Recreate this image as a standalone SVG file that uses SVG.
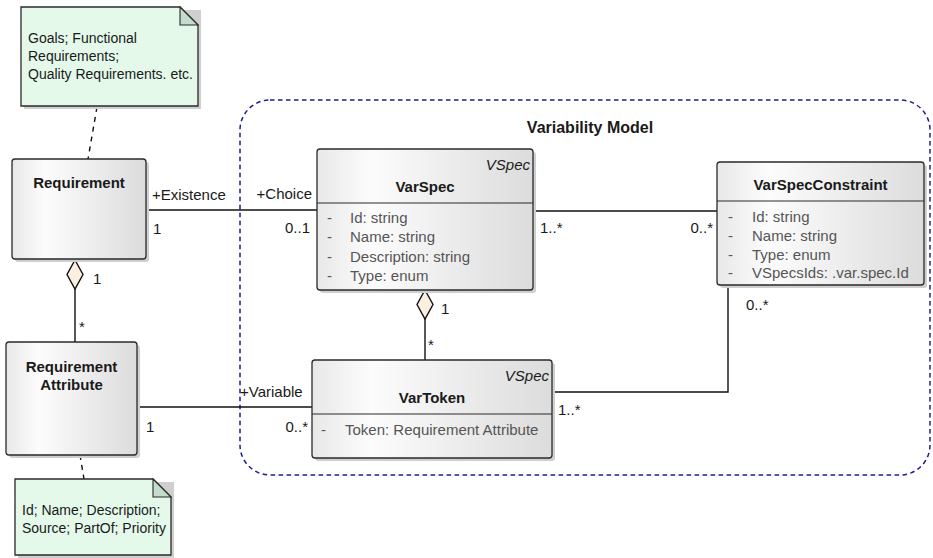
<svg xmlns="http://www.w3.org/2000/svg" width="933" height="558" viewBox="0 0 933 558">
<defs>
<linearGradient id="cls" x1="0" y1="0" x2="1" y2="0">
<stop offset="0" stop-color="#e8e8e8"/>
<stop offset="0.25" stop-color="#fcfcfc"/>
<stop offset="1" stop-color="#dcdcdc"/>
</linearGradient>
<style>
text{font-family:"Liberation Sans",Arial,sans-serif;font-size:15px;fill:#1a1a1a}
.t{font-weight:bold;text-anchor:middle}
.st{font-style:italic;text-anchor:end}
.a{fill:#555}
.n{font-size:14px}
.r{text-anchor:end}
.box{fill:url(#cls);stroke:#2a2a2a;stroke-width:1.3}
.sh{fill:#cfcfcf}
.div{stroke:#2a2a2a;stroke-width:1.2}
.note{fill:#e4f9ea;stroke:#2a2a2a;stroke-width:1.3}
.fold{fill:#c3dccb;stroke:#2a2a2a;stroke-width:1.1}
.ln{fill:none;stroke:#111;stroke-width:1.4}
.dl{fill:none;stroke:#111;stroke-width:1.4;stroke-dasharray:5 5}
.dia{fill:#fbefdf;stroke:#111;stroke-width:1.4}
.pkg{fill:none;stroke:#1c1c9c;stroke-width:1.5;stroke-dasharray:4.5 3.5}
</style>
</defs>
<rect width="933" height="558" fill="#fff"/>

<g id="package">
<path class="pkg" d="M270,100 H900 A30,30 0 0 1 930,130 V445 A30,30 0 0 1 900,475 H270 A30,30 0 0 1 240,445 V130 A30,30 0 0 1 270,100 Z"/>
<text x="590" y="133" class="t" style="font-size:16px">Variability Model</text>
</g>

<g id="connectors">
<line class="ln" x1="146" y1="210" x2="317" y2="210"/>
<line class="ln" x1="75" y1="289" x2="75" y2="342"/>
<polygon class="dia" points="75,260 83,274.5 75,289 67,274.5"/>
<line class="ln" x1="137" y1="407" x2="312" y2="407"/>
<line class="ln" x1="533" y1="211" x2="717" y2="211"/>
<line class="ln" x1="425" y1="319" x2="425" y2="360"/>
<polygon class="dia" points="425,290 433,304.5 425,319 417,304.5"/>
<polyline class="ln" points="728,285 728,392 552,392"/>
<line class="dl" x1="97" y1="107" x2="88" y2="159"/>
<line class="dl" x1="80" y1="455" x2="84" y2="479"/>
<text x="152" y="200">+Existence</text>
<text x="153" y="234">1</text>
<text x="312" y="199" class="r">+Choice</text>
<text x="310" y="233" class="r">0..1</text>
<text x="93" y="284">1</text>
<text x="79" y="332">*</text>
<text x="146" y="432">1</text>
<text x="240" y="397">+Variable</text>
<text x="308" y="432" class="r">0..*</text>
<text x="540" y="233">1..*</text>
<text x="713" y="233" class="r">0..*</text>
<text x="441" y="314">1</text>
<text x="428" y="350">*</text>
<text x="746" y="310">0..*</text>
<text x="558" y="415">1..*</text>
</g>

<g id="note1">
<path class="sh" d="M24,10 H201 V109 H24 Z"/>
<path class="note" d="M21,7 H180 L198,25 V106 H21 Z"/>
<path class="fold" d="M180,7 L198,25 H180 Z"/>
<text x="28" y="43" class="n">Goals; Functional</text>
<text x="28" y="61" class="n">Requirements;</text>
<text x="28" y="79" class="n">Quality Requirements. etc.</text>
</g>

<g id="requirement">
<rect class="sh" x="15" y="162" width="134" height="100" rx="3"/>
<rect class="box" x="12" y="159" width="134" height="100" rx="3"/>
<text x="79" y="188" class="t">Requirement</text>
</g>

<g id="requirementAttribute">
<rect class="sh" x="9" y="345" width="131" height="113" rx="3"/>
<rect class="box" x="6" y="342" width="131" height="113" rx="3"/>
<text x="71.5" y="372" class="t">Requirement</text>
<text x="71.5" y="390" class="t">Attribute</text>
</g>

<g id="note2">
<path class="sh" d="M18,482 H174 V558 H18 Z"/>
<path class="note" d="M15,479 H153 L171,497 V555 H15 Z"/>
<path class="fold" d="M153,479 L171,497 H153 Z"/>
<text x="22" y="515" class="n">Id; Name; Description;</text>
<text x="22" y="533" class="n">Source; PartOf; Priority</text>
</g>

<g id="varSpec">
<rect class="sh" x="320" y="152" width="216" height="141" rx="3"/>
<rect class="box" x="317" y="149" width="216" height="141" rx="3"/>
<line class="div" x1="317" y1="203" x2="533" y2="203"/>
<text x="530" y="170" class="st">VSpec</text>
<text x="425" y="192" class="t">VarSpec</text>
<text x="327" y="223" class="a">-</text><text x="350" y="223" class="a">Id: string</text>
<text x="327" y="242" class="a">-</text><text x="350" y="242" class="a">Name: string</text>
<text x="327" y="262" class="a">-</text><text x="350" y="262" class="a">Description: string</text>
<text x="327" y="281" class="a">-</text><text x="350" y="281" class="a">Type: enum</text>
</g>

<g id="varSpecConstraint">
<rect class="sh" x="720" y="165" width="207" height="123" rx="3"/>
<rect class="box" x="717" y="162" width="207" height="123" rx="3"/>
<line class="div" x1="717" y1="201" x2="924" y2="201"/>
<text x="820.5" y="190" class="t">VarSpecConstraint</text>
<text x="728" y="222" class="a">-</text><text x="752" y="222" class="a">Id: string</text>
<text x="728" y="241" class="a">-</text><text x="752" y="241" class="a">Name: string</text>
<text x="728" y="260" class="a">-</text><text x="752" y="260" class="a">Type: enum</text>
<text x="728" y="278" class="a">-</text><text x="752" y="278" class="a">VSpecsIds: .var.spec.Id</text>
</g>

<g id="varToken">
<rect class="sh" x="315" y="363" width="240" height="98" rx="3"/>
<rect class="box" x="312" y="360" width="240" height="98" rx="3"/>
<line class="div" x1="312" y1="414" x2="552" y2="414"/>
<text x="549" y="381" class="st">VSpec</text>
<text x="432" y="403" class="t">VarToken</text>
<text x="321" y="435" class="a">-</text><text x="345" y="435" class="a">Token: Requirement Attribute</text>
</g>
</svg>
